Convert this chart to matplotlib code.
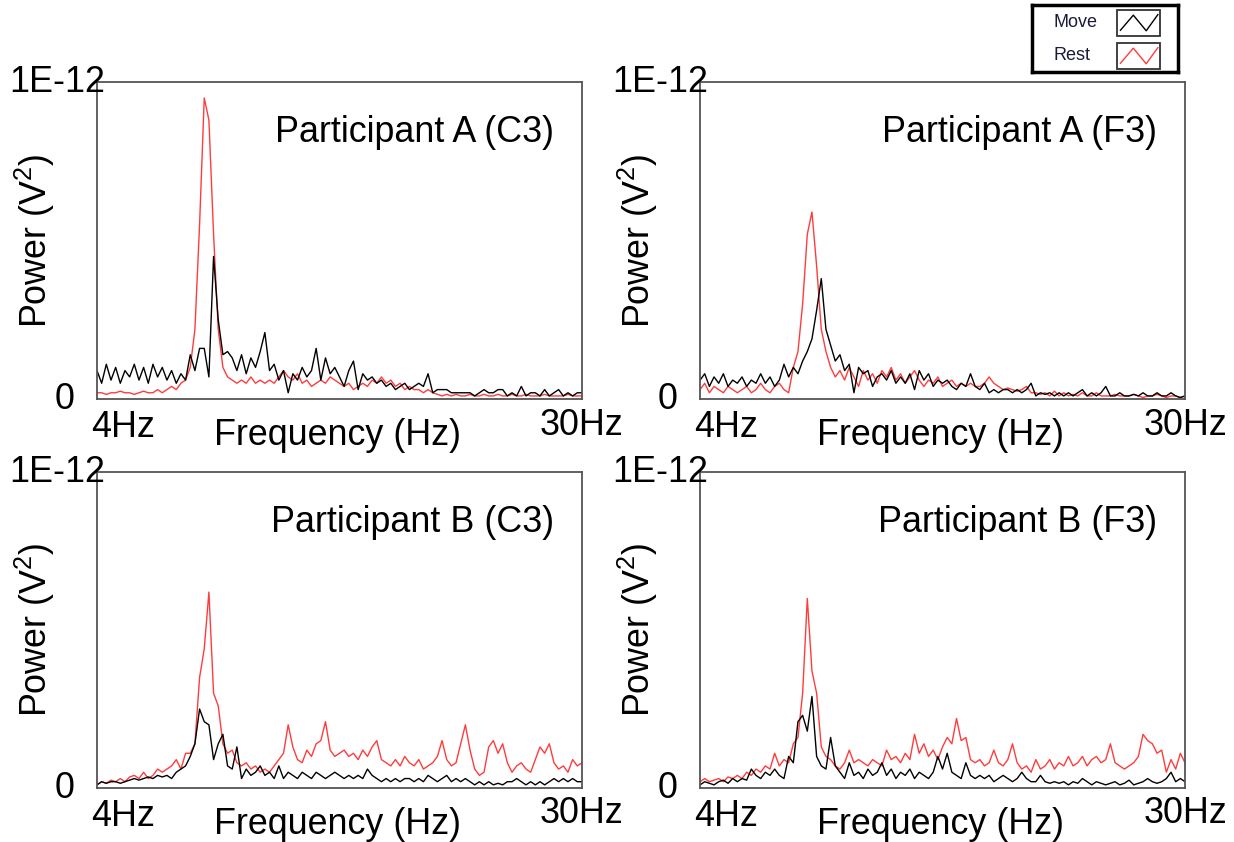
import numpy as np
import matplotlib.pyplot as plt
from matplotlib.patches import Rectangle

# frequency axis, 4-30 Hz in 0.25 Hz bins
freqs = np.linspace(4, 30, 105)

# power values in units of 1E-14 V^2
a_c3_move = [9, 5, 11, 6, 10, 5, 9, 7, 11, 6,
             10, 5, 11, 7, 10, 6, 9, 5, 8, 6,
             14, 9, 16, 16, 7, 45, 25, 14, 15, 13,
             9, 14, 8, 13, 10, 15, 21, 9, 11, 6,
             9, 2, 8, 6, 10, 7, 9, 16, 6, 13,
             8, 10, 7, 4, 9, 12, 3, 8, 6, 7,
             5, 6, 4, 5, 3, 4, 5, 3, 4, 5,
             4, 8, 2, 3, 3, 3, 2, 2, 2, 2,
             2, 1, 2, 3, 2, 2, 3, 3, 1, 2,
             1, 4, 1, 2, 2, 1, 3, 1, 2, 3,
             1, 2, 1, 2, 2]
a_c3_rest = [2, 2, 1.5, 2, 2, 2.5, 2, 2, 1.5, 2,
             2.5, 2, 2, 3, 2, 3, 4, 3, 5, 6,
             10, 22, 55, 95, 88, 52, 22, 10, 7, 6,
             5, 6, 5, 7, 5, 6, 5, 6, 5, 7,
             9, 7, 6, 8, 5, 6, 4, 5, 6, 5,
             7, 6, 5, 4, 5, 3, 4, 5, 4, 6,
             5, 7, 5, 6, 4, 5, 3, 4, 3, 3,
             2, 3, 2, 1.5, 1, 1.5, 1, 1.5, 1, 1,
             1.5, 1, 1, 1.5, 1, 1, 1.5, 1, 1, 1.5,
             1, 1, 1.5, 1, 1, 1, 1.5, 1, 1, 1,
             1, 1.5, 1, 1, 1]

a_f3_move = [6, 8, 4, 7, 5, 8, 4, 6, 5, 7,
             4, 6, 5, 8, 5, 7, 4, 6, 11, 7,
             10, 8, 12, 15, 19, 28, 38, 22, 17, 12,
             14, 9, 11, 2, 10, 8, 9, 4, 7, 8,
             6, 9, 5, 7, 5, 8, 3, 9, 6, 8,
             4, 6, 5, 6, 4, 3, 5, 4, 8, 4,
             3, 5, 2, 3, 2, 3, 3, 2, 3, 2,
             3, 5, 1, 2, 1.5, 2, 1, 2, 1, 2,
             1, 2, 3, 1, 2, 1, 2, 4, 1, 1,
             2, 1, 1, 1.5, 1, 2, 1, 1, 2, 1,
             1, 2, 1, 0.5, 1]
a_f3_rest = [3, 5, 2, 4, 3, 2, 4, 3, 2, 3,
             4, 2, 3, 5, 3, 2, 4, 5, 3, 2,
             10, 15, 30, 52, 59, 42, 22, 15, 10, 7,
             9, 6, 10, 7, 4, 9, 6, 8, 5, 9,
             7, 10, 6, 8, 5, 7, 9, 6, 4, 6,
             5, 7, 4, 5, 6, 4, 5, 4, 5, 4,
             4, 5, 7, 5, 4, 3, 3.5, 3, 2.5, 3,
             4, 2, 2, 1.5, 2, 1, 2.5, 1, 2, 1,
             1.5, 1, 2, 1, 1, 2, 1, 1, 1, 1.5,
             1, 1, 1, 1.5, 1, 0.5, 1, 1, 1.5, 1,
             0.5, 1, 1, 0.5, 1]

b_c3_move = [1, 2, 1.5, 2, 2, 1.5, 2, 2.5, 3, 2.5,
             3, 3.5, 3, 4, 3.5, 4, 3, 5, 6, 7,
             10, 14, 25, 21, 20, 9, 14, 17, 7, 6,
             13, 3, 6, 4, 5, 7, 4, 5, 3, 7,
             3, 5, 4, 3, 5, 4, 3, 5, 4, 3,
             4, 5, 4, 3, 4, 3, 4, 3, 6, 4,
             3, 2, 3, 2, 3, 2, 3, 3, 2, 3,
             2, 4, 3, 2, 3, 4, 2, 3, 2, 3,
             2, 1, 2, 1, 2, 1, 1.5, 1, 2, 2,
             3, 2, 1, 2, 1, 2, 1, 2, 3, 2,
             3, 2, 3, 2, 2]
b_c3_rest = [1, 2, 1.5, 2.5, 2, 3, 2, 3.5, 4, 3,
             5, 3, 4, 6, 5, 6, 7, 9, 6, 11,
             11, 14, 35, 44, 62, 30, 26, 14, 11, 12,
             8, 7, 8, 6, 7, 5, 6, 5, 7, 9,
             11, 20, 13, 9, 8, 12, 10, 14, 15, 21,
             12, 10, 11, 12, 10, 11, 9, 12, 10, 13,
             15, 9, 8, 7, 9, 7, 10, 8, 7, 9,
             6, 7, 8, 10, 15, 9, 7, 8, 14, 20,
             12, 6, 4, 5, 13, 15, 11, 14, 8, 5,
             7, 8, 6, 5, 9, 13, 11, 14, 8, 6,
             7, 5, 9, 7, 8]

b_f3_move = [1, 2, 1.5, 1, 2, 2.5, 1.5, 3, 2, 3,
             2.5, 6, 4, 3, 5, 4, 6, 4, 3, 10,
             8, 21, 23, 18, 29, 10, 7, 6, 16, 7,
             5, 3, 8, 4, 5, 3, 6, 4, 5, 8,
             4, 6, 3, 5, 4, 6, 3, 5, 4, 3,
             5, 10, 6, 11, 5, 4, 3, 8, 4, 3,
             4, 3, 4, 2, 3, 4, 3, 2, 3, 5,
             3, 2, 2, 4, 2, 1.5, 2, 1.5, 2, 1,
             2, 1.5, 3, 2, 1, 2, 1.5, 1, 1.5, 2,
             1, 1.5, 2.5, 1, 1.5, 2, 3, 2, 1.5, 2,
             3, 5, 2, 3, 2]
b_f3_rest = [2, 3, 2, 2.5, 3, 2, 3.5, 3, 4, 3,
             5, 4, 6, 5, 7, 6, 11, 7, 9, 8,
             14, 16, 30, 60, 37, 30, 13, 10, 9, 7,
             6, 8, 12, 8, 9, 8, 7, 9, 8, 7,
             12, 9, 10, 8, 11, 9, 17, 11, 14, 10,
             12, 9, 13, 16, 14, 22, 15, 16, 9, 8,
             9, 7, 8, 12, 8, 7, 9, 14, 8, 6,
             7, 5, 9, 6, 7, 9, 6, 8, 7, 10,
             7, 8, 10, 7, 9, 10, 8, 9, 14, 8,
             7, 6, 7, 8, 10, 17, 15, 14, 11, 12,
             5, 9, 6, 11, 8]

titles = ["Participant A (C3)", "Participant A (F3)",
          "Participant B (C3)", "Participant B (F3)"]
moves = [a_c3_move, a_f3_move, b_c3_move, b_f3_move]
rests = [a_c3_rest, a_f3_rest, b_c3_rest, b_f3_rest]

UNIT = 1e-14
RED = '#ff3c3c'

plt.rcParams['font.family'] = ['Liberation Sans', 'DejaVu Sans']
plt.rcParams['mathtext.fontset'] = 'custom'
plt.rcParams['mathtext.rm'] = 'Liberation Sans'

fig = plt.figure(figsize=(12.34, 8.42), dpi=100)

# axes rectangles (fig fractions)
rects = [[0.0786, 0.526, 0.393, 0.3765],
         [0.5673, 0.526, 0.393, 0.3765],
         [0.0786, 0.0641, 0.393, 0.3753],
         [0.5673, 0.0641, 0.393, 0.3753]]

fs = 25.8
for rect, title, move, rest in zip(rects, titles, moves, rests):
    ax = fig.add_axes(rect)
    ax.plot(freqs, np.array(rest) * UNIT, color=RED, lw=1.0)
    ax.plot(freqs, np.array(move) * UNIT, color='black', lw=1.0)
    ax.set_xlim(4, 30)
    ax.set_ylim(0, 1e-12)
    ax.set_xticks([])
    ax.set_yticks([])
    for sp in ax.spines.values():
        sp.set_color('#555555')
        sp.set_linewidth(1.3)

    ax.text(0.942, 0.84, title, transform=ax.transAxes, ha='right', va='center', fontsize=fs)
    ax.text(0.0165, 1.0, "1E-12", transform=ax.transAxes, ha='right', va='center', fontsize=fs)
    ax.text(-0.066, 0.0, "0", transform=ax.transAxes, ha='center', va='center', fontsize=fs)
    ax.text(0.054, -0.09, "4Hz", transform=ax.transAxes, ha='center', va='center', fontsize=fs)
    ax.text(1.0, -0.082, "30Hz", transform=ax.transAxes, ha='center', va='center', fontsize=fs)
    ax.text(0.495, -0.115, "Frequency (Hz)", transform=ax.transAxes, ha='center', va='center',
            fontsize=fs)
    ax.text(-0.128, 0.5, r"Power (V$\mathregular{^2}$)", transform=ax.transAxes,
            ha='center', va='center', rotation=90, fontsize=fs)

# legend box in the top right corner
lax = fig.add_axes([0.8363, 0.9145, 0.1183, 0.0796])
lax.set_xlim(0, 146)
lax.set_ylim(67, 0)
lax.set_xticks([])
lax.set_yticks([])
for sp in lax.spines.values():
    sp.set_color('black')
    sp.set_linewidth(2.5)

labels = ["Move", "Rest"]
colors = ['black', RED]
for k, (lab, col) in enumerate(zip(labels, colors)):
    y0 = 5 + k * 33
    lax.text(22, y0 + 13, lab, ha='left', va='center', fontsize=13, color='#1a1a3a')
    lax.add_patch(Rectangle((85, y0), 43, 26, fill=False, edgecolor='#333333', lw=1.3))
    zx = 85 + np.array([0.08, 0.38, 0.68, 0.95]) * 43
    zy = y0 + np.array([0.78, 0.2, 0.8, 0.18]) * 26
    lax.plot(zx, zy, color=col, lw=1.0)

fig.savefig('out.png', dpi=100)
